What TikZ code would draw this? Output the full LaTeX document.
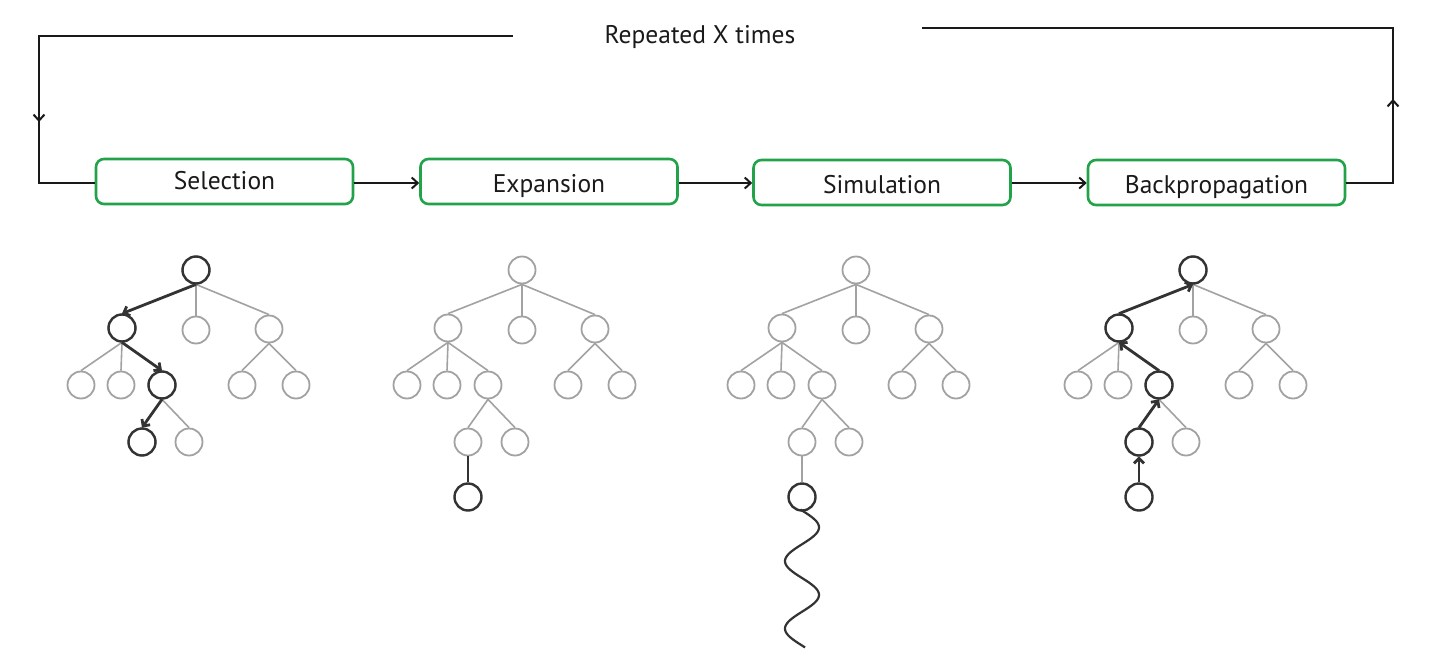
\documentclass[tikz,border=0pt]{standalone}
\usepackage{fontspec}
\setmainfont{PT Sans}
\usetikzlibrary{arrows.meta}
\definecolor{boxgreen}{HTML}{22A34A}
\definecolor{lgray}{HTML}{A2A2A2}
\definecolor{dgray}{HTML}{333333}
\definecolor{txt}{HTML}{1A1A1A}
\tikzset{
  stagebox/.style={draw=boxgreen, line width=2.6pt, rounded corners=8pt, fill=white,
    minimum width=257pt, minimum height=45pt, inner sep=0pt,
    text height=29pt, text depth=6.4pt,
    font=\fontsize{25.5}{30}\selectfont, text=txt},
  flow/.style={draw=black!90, line width=2pt},
  flowtip/.style={flow, -{Straight Barb[length=6pt,width=11pt]}},
  lnode/.style={circle, draw=lgray, line width=1.8pt, minimum size=27pt, inner sep=0pt, fill=white},
  dnode/.style={circle, draw=dgray, line width=2.4pt, minimum size=27pt, inner sep=0pt, fill=white},
  ledge/.style={draw=lgray, line width=1.6pt},
  dedge/.style={draw=dgray, line width=2.8pt},
  dtip/.style={dedge, -{Straight Barb[length=5pt,width=10pt]}},
  wave/.style={draw=dgray, line width=2.2pt}
}
\newcommand\mytree[2]{%
  \node[lnode] (#1r) at (#2,270) {};
  \node[lnode] (#1a) at (#2-74,328) {};
  \node[lnode] (#1b) at (#2,330) {};
  \node[lnode] (#1c) at (#2+73,329) {};
  \node[lnode] (#1aa) at (#2-115,385) {};
  \node[lnode] (#1ab) at (#2-75,385) {};
  \node[lnode] (#1ac) at (#2-34,385) {};
  \node[lnode] (#1ca) at (#2+46,385) {};
  \node[lnode] (#1cb) at (#2+100,385) {};
  \node[lnode] (#1aca) at (#2-54,442) {};
  \node[lnode] (#1acb) at (#2-7,442) {};
  \draw[ledge] (#1r.south) -- (#1a.north);
  \draw[ledge] (#1r.south) -- (#1b.north);
  \draw[ledge] (#1r.south) -- (#1c.north);
  \draw[ledge] (#1a.south) -- (#1aa.north);
  \draw[ledge] (#1a.south) -- (#1ab.north);
  \draw[ledge] (#1a.south) -- (#1ac.north);
  \draw[ledge] (#1c.south) -- (#1ca.north);
  \draw[ledge] (#1c.south) -- (#1cb.north);
  \draw[ledge] (#1ac.south) -- (#1aca.north);
  \draw[ledge] (#1ac.south) -- (#1acb.north);
}
\begin{document}
\begin{tikzpicture}[x=1pt,y=-1pt]
\fill[white] (0,0) rectangle (1436,656);
\useasboundingbox (0,0) rectangle (1436,656);

% stage boxes
\node[stagebox, text height=23pt] (sel) at (224.5,181.5) {Selection};
\node[stagebox] (exp) at (549,181.5) {Expansion};
\node[stagebox] (sim) at (882,182.5) {Simulation};
\node[stagebox] (back) at (1216.5,182.5) {Backpropagation};

\coordinate (fy) at (0,183);
\draw[flowtip] (sel.east |- fy) -- (exp.west |- fy);
\draw[flowtip] (exp.east |- fy) -- (sim.west |- fy);
\draw[flowtip] (sim.east |- fy) -- (back.west |- fy);

% loop
\node[font=\fontsize{25.5}{30}\selectfont, text=txt] (rep) at (700,37) {Repeated X times};
\coordinate (lt) at (513,36);
\coordinate (ltc) at (39,36);
\coordinate (lmid) at (39,122);
\coordinate (lbc) at (39,183);
\coordinate (rt) at (922,28);
\coordinate (rtc) at (1393,28);
\coordinate (rmid) at (1393,99);
\coordinate (rbc) at (1393,183);
\draw[flow] (lt) -- (ltc) -- (lbc) -- (sel.west |- lbc);
\draw[flowtip] (ltc) -- (lmid);
\draw[flow] (back.east |- rbc) -- (rbc) -- (rtc) -- (rt);
\draw[flowtip] (rbc) -- (rmid);

% tree 1: selection
\mytree{s}{196}
\draw[dtip] (sr.south) -- (sa.north);
\draw[dtip] (sa.south) -- (sac.north);
\draw[dtip] (sac.south) -- (saca.north);
\node[dnode] (sdr) at (sr) {};
\node[dnode] (sda) at (sa) {};
\node[dnode] (sdac) at (sac) {};
\node[dnode] (sdaca) at (saca) {};

% tree 2: expansion
\mytree{e}{522}
\node[dnode] (ex) at (522-54,497) {};
\draw[dedge] (eaca.south) -- (ex.north);

% tree 3: simulation
\mytree{m}{856}
\node[dnode] (mx) at (856-54,497) {};
\draw[ledge] (maca.south) -- (mx.north);
\draw[wave] (mx.south) -- plot[domain=0:2.03, samples=90] ({802+17*sin(\x*360)}, {510.5+67.5*\x});

% tree 4: backpropagation
\mytree{b}{1193}
\node[dnode] (bx) at (1193-54,497) {};
\draw[dtip] (bx.north) -- (baca.south);
\draw[dtip] (baca.north) -- (bac.south);
\draw[dtip] (bac.north) -- (ba.south);
\draw[dtip] (ba.north) -- (br.south);
\node[dnode] (bdr) at (br) {};
\node[dnode] (bda) at (ba) {};
\node[dnode] (bdac) at (bac) {};
\node[dnode] (bdaca) at (baca) {};
\end{tikzpicture}
\end{document}
